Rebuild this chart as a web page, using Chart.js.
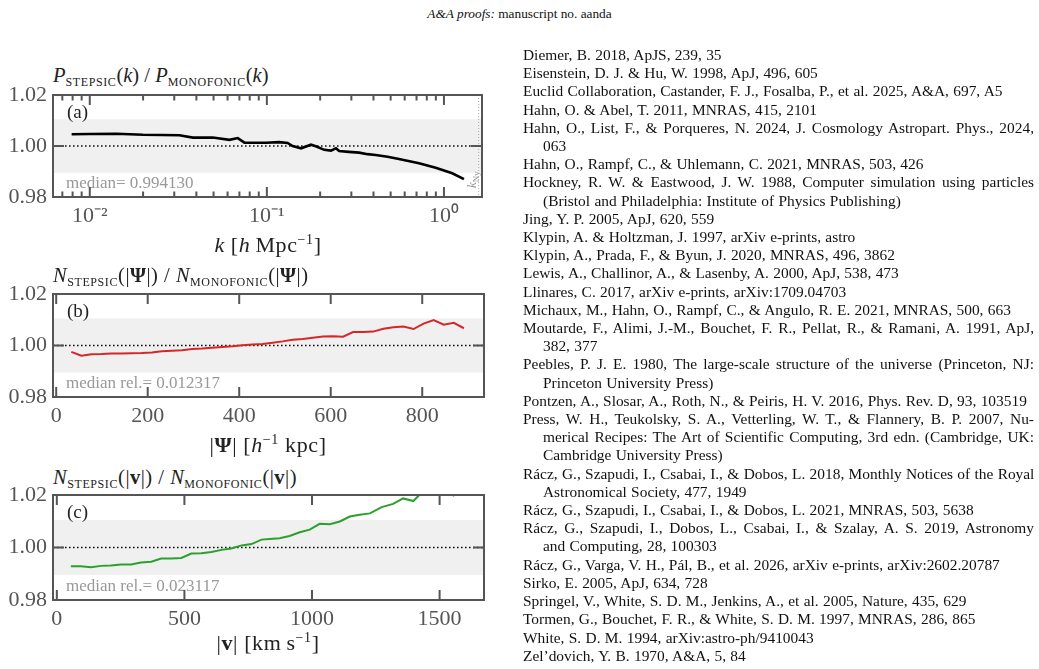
<!DOCTYPE html>
<html lang="en">
  <head>
    <meta charset="utf-8" />
    <title>A&amp;A proofs: manuscript no. aanda</title>
    <script src="https://cdn.jsdelivr.net/npm/chart.js"></script>
    <style>
      body {
        margin: 0;
        width: 1039px;
        height: 669px;
        position: relative;
        overflow: hidden;
        background: #fff;
        font-family: "Liberation Serif", serif;
        color: #111;
      }
      .hdr {
        position: absolute;
        top: 5px;
        left: 0;
        width: 1039px;
        text-align: center;
        font-size: 13.3px;
        line-height: 18px;
      }
      canvas {
        position: absolute;
        left: 0;
      }
      .ttl {
        position: absolute;
        left: 53px;
        font-size: 20.5px;
        line-height: 24px;
        white-space: nowrap;
        color: #222;
      }
      .ttl.w {
        letter-spacing: 0.5px;
      }
      .ttl sub {
        font-size: 12px;
        letter-spacing: 0.6px;
        vertical-align: -4px;
        line-height: 0;
      }
      .xl {
        position: absolute;
        left: 0;
        width: 536px;
        text-align: center;
        font-size: 22px;
        letter-spacing: 0.6px;
        line-height: 24px;
        white-space: nowrap;
        color: #222;
      }
      .xl sup {
        font-size: 14px;
        vertical-align: 8px;
        line-height: 0;
      }
      .refs {
        position: absolute;
        left: 523px;
        top: 46px;
        width: 511px;
        font-size: 15.4px;
        word-spacing: 0.5px;
        line-height: 18.2px;
      }
      .refs div {
        white-space: nowrap;
        text-align: left;
      }
      .refs .j {
        text-align: justify;
        text-align-last: justify;
      }
      .refs .c {
        padding-left: 20px;
      }
    </style>
  </head>
  <body>
    <div class="hdr"><i>A&amp;A proofs:</i> manuscript no. aanda</div>

    <div class="ttl" style="top: 63px">
      <i>P</i><sub>STEPSIC</sub>(<i>k</i>) / <i>P</i><sub>MONOFONIC</sub>(<i>k</i>)
    </div>
    <canvas id="chartA" width="500" height="162" style="top: 75px"></canvas>
    <div class="xl" style="top: 233px">
      <i>k</i> [<i>h</i>&#8201;Mpc<sup>−1</sup>]
    </div>

    <div class="ttl w" style="top: 263px">
      <i>N</i><sub>STEPSIC</sub>(|<b>Ψ</b>|) / <i>N</i><sub>MONOFONIC</sub>(|<b>Ψ</b>|)
    </div>
    <canvas id="chartB" width="500" height="163" style="top: 274px"></canvas>
    <div class="xl" style="top: 433px">
      |<b>Ψ</b>| [<i>h</i><sup>−1</sup> kpc]
    </div>

    <div class="ttl w" style="top: 465px">
      <i>N</i><sub>STEPSIC</sub>(|<b>v</b>|) / <i>N</i><sub>MONOFONIC</sub>(|<b>v</b>|)
    </div>
    <canvas id="chartC" width="500" height="165" style="top: 475px"></canvas>
    <div class="xl" style="top: 631px">
      |<b>v</b>| [km&#8201;s<sup>−1</sup>]
    </div>

    <div class="refs">
      <div>Diemer, B. 2018, ApJS, 239, 35</div>
      <div>Eisenstein, D. J. &amp; Hu, W. 1998, ApJ, 496, 605</div>
      <div>Euclid Collaboration, Castander, F. J., Fosalba, P., et al. 2025, A&amp;A, 697, A5</div>
      <div>Hahn, O. &amp; Abel, T. 2011, MNRAS, 415, 2101</div>
      <div class="j">Hahn, O., List, F., &amp; Porqueres, N. 2024, J. Cosmology Astropart. Phys., 2024,</div>
      <div class="c">063</div>
      <div>Hahn, O., Rampf, C., &amp; Uhlemann, C. 2021, MNRAS, 503, 426</div>
      <div class="j">Hockney, R. W. &amp; Eastwood, J. W. 1988, Computer simulation using particles</div>
      <div class="c">(Bristol and Philadelphia: Institute of Physics Publishing)</div>
      <div>Jing, Y. P. 2005, ApJ, 620, 559</div>
      <div>Klypin, A. &amp; Holtzman, J. 1997, arXiv e-prints, astro</div>
      <div>Klypin, A., Prada, F., &amp; Byun, J. 2020, MNRAS, 496, 3862</div>
      <div>Lewis, A., Challinor, A., &amp; Lasenby, A. 2000, ApJ, 538, 473</div>
      <div>Llinares, C. 2017, arXiv e-prints, arXiv:1709.04703</div>
      <div>Michaux, M., Hahn, O., Rampf, C., &amp; Angulo, R. E. 2021, MNRAS, 500, 663</div>
      <div class="j">Moutarde, F., Alimi, J.-M., Bouchet, F. R., Pellat, R., &amp; Ramani, A. 1991, ApJ,</div>
      <div class="c">382, 377</div>
      <div class="j">Peebles, P. J. E. 1980, The large-scale structure of the universe (Princeton, NJ:</div>
      <div class="c">Princeton University Press)</div>
      <div>Pontzen, A., Slosar, A., Roth, N., &amp; Peiris, H. V. 2016, Phys. Rev. D, 93, 103519</div>
      <div class="j">Press, W. H., Teukolsky, S. A., Vetterling, W. T., &amp; Flannery, B. P. 2007, Nu-</div>
      <div class="j c">merical Recipes: The Art of Scientific Computing, 3rd edn. (Cambridge, UK:</div>
      <div class="c">Cambridge University Press)</div>
      <div class="j">Rácz, G., Szapudi, I., Csabai, I., &amp; Dobos, L. 2018, Monthly Notices of the Royal</div>
      <div class="c">Astronomical Society, 477, 1949</div>
      <div>Rácz, G., Szapudi, I., Csabai, I., &amp; Dobos, L. 2021, MNRAS, 503, 5638</div>
      <div class="j">Rácz, G., Szapudi, I., Dobos, L., Csabai, I., &amp; Szalay, A. S. 2019, Astronomy</div>
      <div class="c">and Computing, 28, 100303</div>
      <div>Rácz, G., Varga, V. H., Pál, B., et al. 2026, arXiv e-prints, arXiv:2602.20787</div>
      <div>Sirko, E. 2005, ApJ, 634, 728</div>
      <div>Springel, V., White, S. D. M., Jenkins, A., et al. 2005, Nature, 435, 629</div>
      <div>Tormen, G., Bouchet, F. R., &amp; White, S. D. M. 1997, MNRAS, 286, 865</div>
      <div>White, S. D. M. 1994, arXiv:astro-ph/9410043</div>
      <div>Zel’dovich, Y. B. 1970, A&amp;A, 5, 84</div>
    </div>

    <script>
      // (a) power spectrum ratio
      const kA = [
        0.0079, 0.0100, 0.0141, 0.0200, 0.0321, 0.0382, 0.0495, 0.0615,
        0.0685, 0.0747, 0.0870, 0.0990, 0.1175, 0.1310, 0.1397, 0.1560,
        0.1775, 0.1890, 0.2110, 0.2300, 0.2455, 0.2560, 0.2900, 0.3320,
        0.3700, 0.4120, 0.4800, 0.5570, 0.7230, 0.8980, 1.1140, 1.2970,
      ];
      const ratioA = [
        1.0046, 1.0047, 1.0048, 1.0044, 1.0042, 1.0033, 1.0033, 1.0024,
        1.0031, 1.0013, 1.0013, 1.0013, 1.0015, 1.0012, 1.0000, 0.9991,
        1.0005, 0.9999, 0.9985, 0.9982, 0.9991, 0.9980, 0.9977, 0.9974,
        0.9968, 0.9965, 0.9958, 0.9949, 0.9932, 0.9915, 0.9893, 0.9870,
      ];
      const kNy = 1.57;

      // (b) displacement distribution ratio
      const psiB = [
        33, 55, 77, 99, 121, 143, 165, 187, 209, 231, 253, 275, 297, 319,
        341, 363, 385, 407, 429, 451, 473, 495, 517, 539, 561, 583, 605, 627,
        649, 671, 693, 715, 737, 759, 781, 803, 825, 847, 869, 891,
      ];
      const ratioB = [
        0.9975, 0.9960, 0.9966, 0.9967, 0.9969, 0.9969, 0.9970, 0.9971,
        0.9973, 0.9978, 0.9980, 0.9982, 0.9986, 0.9988, 0.9991, 0.9994,
        0.9997, 1.0001, 1.0004, 1.0006, 1.0011, 1.0016, 1.0022, 1.0025,
        1.0030, 1.0035, 1.0036, 1.0034, 1.0052, 1.0052, 1.0054, 1.0065,
        1.0071, 1.0074, 1.0064, 1.0085, 1.0099, 1.0081, 1.0088, 1.0067,
      ];

      // (c) velocity distribution ratio
      const vC = [
        55, 94, 134, 173, 212, 252, 291, 330, 370, 409, 448, 488, 527, 566,
        606, 645, 684, 724, 763, 802, 834, 873, 912, 952, 991, 1030, 1070,
        1109, 1148, 1187, 1227, 1273, 1318, 1357, 1397, 1436, 1475, 1515,
        1554, 1594,
      ];
      const ratioC = [
        0.9929, 0.9929, 0.9925, 0.9930, 0.9931, 0.9935, 0.9935, 0.9943,
        0.9946, 0.9958, 0.9958, 0.9960, 0.9977, 0.9978, 0.9983, 0.9991,
        0.9996, 1.0008, 1.0013, 1.0030, 1.0032, 1.0035, 1.0044, 1.0058,
        1.0068, 1.0090, 1.0089, 1.0099, 1.0118, 1.0125, 1.0130, 1.0154,
        1.0166, 1.0187, 1.0177, 1.0215, 1.0205, 1.0225, 1.0198, 1.0230,
      ];

      // ticks and labels
      const yTicks = [0.98, 1.0, 1.02];
      const majorA = [0.01, 0.1, 1];
      const majorLabelA = ["10⁻²", "10⁻¹", "10⁰"];
      const minorA = [
        0.007, 0.008, 0.009, 0.02, 0.03, 0.04, 0.05, 0.06, 0.07, 0.08, 0.09,
        0.2, 0.3, 0.4, 0.5, 0.6, 0.7, 0.8, 0.9,
      ];
      const majorB = [0, 200, 400, 600, 800];
      const majorC = [0, 500, 1000, 1500];
      const bandHalf = 0.0105;

      Chart.defaults.font.family = '"Liberation Serif", serif';

      const decor = {
        id: "decor",
        beforeDatasetsDraw(chart, args, o) {
          const { ctx, chartArea: a, scales } = chart;
          const x = scales.x, y = scales.y;
          ctx.save();
          // +-1% band
          const yt = y.getPixelForValue(1 + bandHalf);
          const yb = y.getPixelForValue(1 - bandHalf);
          ctx.fillStyle = "#f0f0f0";
          ctx.fillRect(a.left, yt, a.width, yb - yt);
          // unity line
          const y1 = y.getPixelForValue(1);
          ctx.strokeStyle = "#111";
          ctx.lineWidth = 1.6;
          ctx.setLineDash([1.6, 2.4]);
          ctx.beginPath();
          ctx.moveTo(a.left, y1);
          ctx.lineTo(a.right, y1);
          ctx.stroke();
          // nyquist
          if (o.kny) {
            const px = x.getPixelForValue(o.kny);
            ctx.strokeStyle = "#aaa";
            ctx.lineWidth = 1;
            ctx.setLineDash([1, 2]);
            ctx.beginPath();
            ctx.moveTo(px, a.top);
            ctx.lineTo(px, a.bottom);
            ctx.stroke();
            ctx.save();
            ctx.translate(px - 3, a.bottom - 9);
            ctx.rotate(-Math.PI / 2);
            ctx.fillStyle = "#999";
            ctx.textBaseline = "alphabetic";
            ctx.font = 'italic 13px "Liberation Serif"';
            ctx.fillText("k", 0, 0);
            const w = ctx.measureText("k").width;
            ctx.font = '9px "Liberation Serif"';
            ctx.fillText("Ny", w, 3);
            ctx.restore();
          }
          ctx.setLineDash([]);
          ctx.textBaseline = "middle";
          ctx.fillStyle = "#222";
          ctx.font = '19px "Liberation Serif"';
          ctx.fillText(o.tag, a.left + 14, a.top + 18);
          ctx.fillStyle = "#999";
          ctx.font = '17px "Liberation Serif"';
          ctx.fillText(o.note, a.left + 13, a.bottom - 13);
          ctx.restore();
        },
        afterDatasetsDraw(chart) {
          const { ctx, chartArea: a, scales } = chart;
          const x = scales.x, y = scales.y;
          ctx.save();
          ctx.strokeStyle = "#555";
          ctx.lineWidth = 2;
          ctx.strokeRect(a.left, a.top, a.width, a.height);
          ctx.beginPath();
          x.ticks.forEach((t) => {
            const px = x.getPixelForValue(t.value);
            const len = t.minor ? 5.5 : 10;
            ctx.moveTo(px, a.top);
            ctx.lineTo(px, a.top + len);
            ctx.moveTo(px, a.bottom);
            ctx.lineTo(px, a.bottom - len);
          });
          y.ticks.forEach((t) => {
            const py = y.getPixelForValue(t.value);
            ctx.moveTo(a.left, py);
            ctx.lineTo(a.left + 11, py);
            ctx.moveTo(a.right, py);
            ctx.lineTo(a.right - 11, py);
          });
          ctx.stroke();
          ctx.restore();
        },
      };

      function makePanel(id, p) {
        const allTicks = p.major.concat(p.minor || []);
        return new Chart(document.getElementById(id), {
          type: "line",
          data: {
            datasets: [
              {
                data: p.xs.map((v, i) => ({ x: v, y: p.ys[i] })),
                borderColor: p.color,
                borderWidth: p.width,
                pointRadius: 0,
                tension: 0,
                fill: false,
              },
            ],
          },
          options: {
            responsive: false,
            animation: false,
            events: [],
            layout: { padding: { top: 20, right: p.right, bottom: 0, left: 0 } },
            plugins: {
              legend: { display: false },
              tooltip: { enabled: false },
              decor: { tag: p.tag, note: p.note, kny: p.kny },
            },
            scales: {
              x: {
                type: p.xType,
                min: p.xmin,
                max: p.xmax,
                grid: { display: false, drawTicks: false },
                border: { display: false },
                afterBuildTicks: (s) => {
                  s.ticks = allTicks.map((v) => ({
                    value: v,
                    minor: p.major.indexOf(v) < 0,
                  }));
                },
                afterFit: (s) => {
                  s.height = 40;
                },
                ticks: {
                  autoSkip: false,
                  maxRotation: 0,
                  padding: 6,
                  color: "#555",
                  font: { size: 22 },
                  callback: (v) => {
                    const i = p.major.indexOf(v);
                    return i < 0 ? "" : p.labels[i];
                  },
                },
              },
              y: {
                min: 0.98,
                max: 1.02,
                grid: { display: false, drawTicks: false },
                border: { display: false },
                afterBuildTicks: (s) => {
                  s.ticks = yTicks.map((v) => ({ value: v }));
                },
                afterFit: (s) => {
                  s.width = 53;
                },
                ticks: {
                  padding: 6,
                  color: "#555",
                  font: { size: 22 },
                  callback: (v) => Number(v).toFixed(2),
                },
              },
            },
          },
          plugins: [decor],
        });
      }

      makePanel("chartA", {
        xs: kA, ys: ratioA, color: "#000", width: 2.6,
        xType: "logarithmic", xmin: 0.0062, xmax: 1.64,
        major: majorA, labels: majorLabelA, minor: minorA,
        right: 18, tag: "(a)", note: "median= 0.994130", kny: kNy,
      });
      makePanel("chartB", {
        xs: psiB, ys: ratioB, color: "#d62728", width: 2,
        xType: "linear", xmin: -7, xmax: 935,
        major: majorB, labels: majorB.map(String),
        right: 16, tag: "(b)", note: "median rel.= 0.012317",
      });
      makePanel("chartC", {
        xs: vC, ys: ratioC, color: "#2ca02c", width: 2,
        xType: "linear", xmin: -15, xmax: 1674,
        major: majorC, labels: majorC.map(String),
        right: 16, tag: "(c)", note: "median rel.= 0.023117",
      });
    </script>
  </body>
</html>
